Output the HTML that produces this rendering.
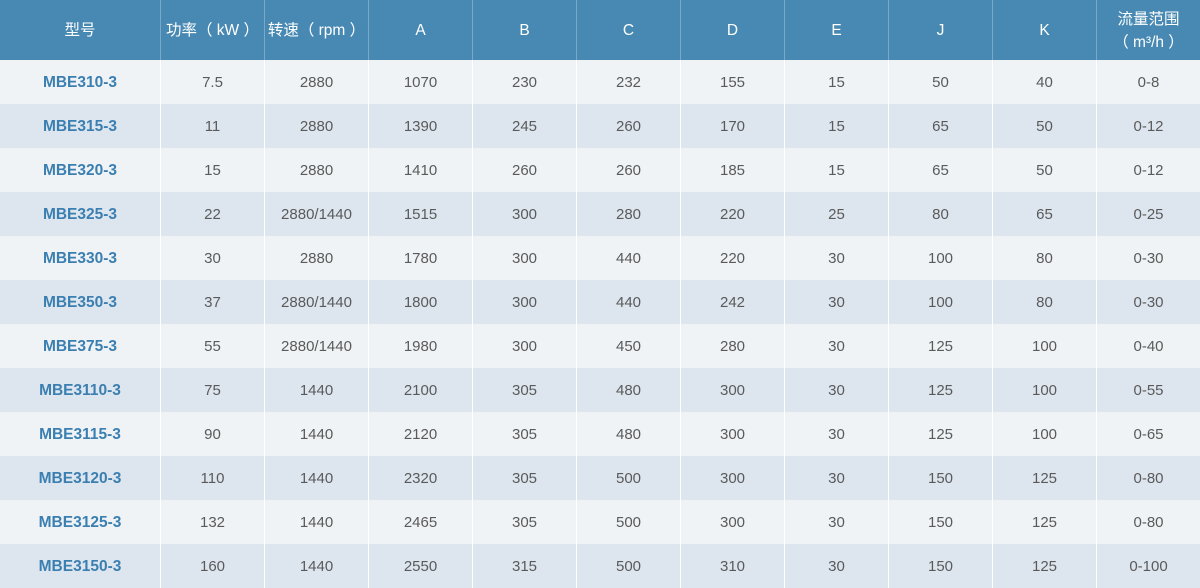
<!DOCTYPE html>
<html><head><meta charset="utf-8"><style>
body{margin:0;width:1200px;height:588px;overflow:hidden;font-family:"Liberation Sans","Noto Sans CJK SC",sans-serif;}
.r{display:flex;height:44px;}
.r div{width:104px;box-sizing:border-box;border-left:1px solid #fff;display:flex;align-items:center;justify-content:center;font-size:15px;color:#5a5a5a;padding-top:1px;}
.r div:first-child{width:160px;border-left:none;color:#3b7fb1;font-weight:bold;font-size:15.5px;}
.h{height:60px;background:#4789b3;}
.h div{color:#fff !important;font-weight:normal !important;font-size:15.5px !important;border-left-color:#7aa8c8 !important;text-align:center;line-height:23px;padding-top:1px;}
.a{background:#eff3f6;}
.b{background:#dde6ef;}
</style></head><body>
<div class="r h"><div>型号</div><div>功率（ kW ）</div><div>转速（ rpm ）</div><div>A</div><div>B</div><div>C</div><div>D</div><div>E</div><div>J</div><div>K</div><div>流量范围<br>（ m³/h ）</div></div>
<div class="r a"><div>MBE310-3</div><div>7.5</div><div>2880</div><div>1070</div><div>230</div><div>232</div><div>155</div><div>15</div><div>50</div><div>40</div><div>0-8</div></div>
<div class="r b"><div>MBE315-3</div><div>11</div><div>2880</div><div>1390</div><div>245</div><div>260</div><div>170</div><div>15</div><div>65</div><div>50</div><div>0-12</div></div>
<div class="r a"><div>MBE320-3</div><div>15</div><div>2880</div><div>1410</div><div>260</div><div>260</div><div>185</div><div>15</div><div>65</div><div>50</div><div>0-12</div></div>
<div class="r b"><div>MBE325-3</div><div>22</div><div>2880/1440</div><div>1515</div><div>300</div><div>280</div><div>220</div><div>25</div><div>80</div><div>65</div><div>0-25</div></div>
<div class="r a"><div>MBE330-3</div><div>30</div><div>2880</div><div>1780</div><div>300</div><div>440</div><div>220</div><div>30</div><div>100</div><div>80</div><div>0-30</div></div>
<div class="r b"><div>MBE350-3</div><div>37</div><div>2880/1440</div><div>1800</div><div>300</div><div>440</div><div>242</div><div>30</div><div>100</div><div>80</div><div>0-30</div></div>
<div class="r a"><div>MBE375-3</div><div>55</div><div>2880/1440</div><div>1980</div><div>300</div><div>450</div><div>280</div><div>30</div><div>125</div><div>100</div><div>0-40</div></div>
<div class="r b"><div>MBE3110-3</div><div>75</div><div>1440</div><div>2100</div><div>305</div><div>480</div><div>300</div><div>30</div><div>125</div><div>100</div><div>0-55</div></div>
<div class="r a"><div>MBE3115-3</div><div>90</div><div>1440</div><div>2120</div><div>305</div><div>480</div><div>300</div><div>30</div><div>125</div><div>100</div><div>0-65</div></div>
<div class="r b"><div>MBE3120-3</div><div>110</div><div>1440</div><div>2320</div><div>305</div><div>500</div><div>300</div><div>30</div><div>150</div><div>125</div><div>0-80</div></div>
<div class="r a"><div>MBE3125-3</div><div>132</div><div>1440</div><div>2465</div><div>305</div><div>500</div><div>300</div><div>30</div><div>150</div><div>125</div><div>0-80</div></div>
<div class="r b"><div>MBE3150-3</div><div>160</div><div>1440</div><div>2550</div><div>315</div><div>500</div><div>310</div><div>30</div><div>150</div><div>125</div><div>0-100</div></div>
</body></html>
